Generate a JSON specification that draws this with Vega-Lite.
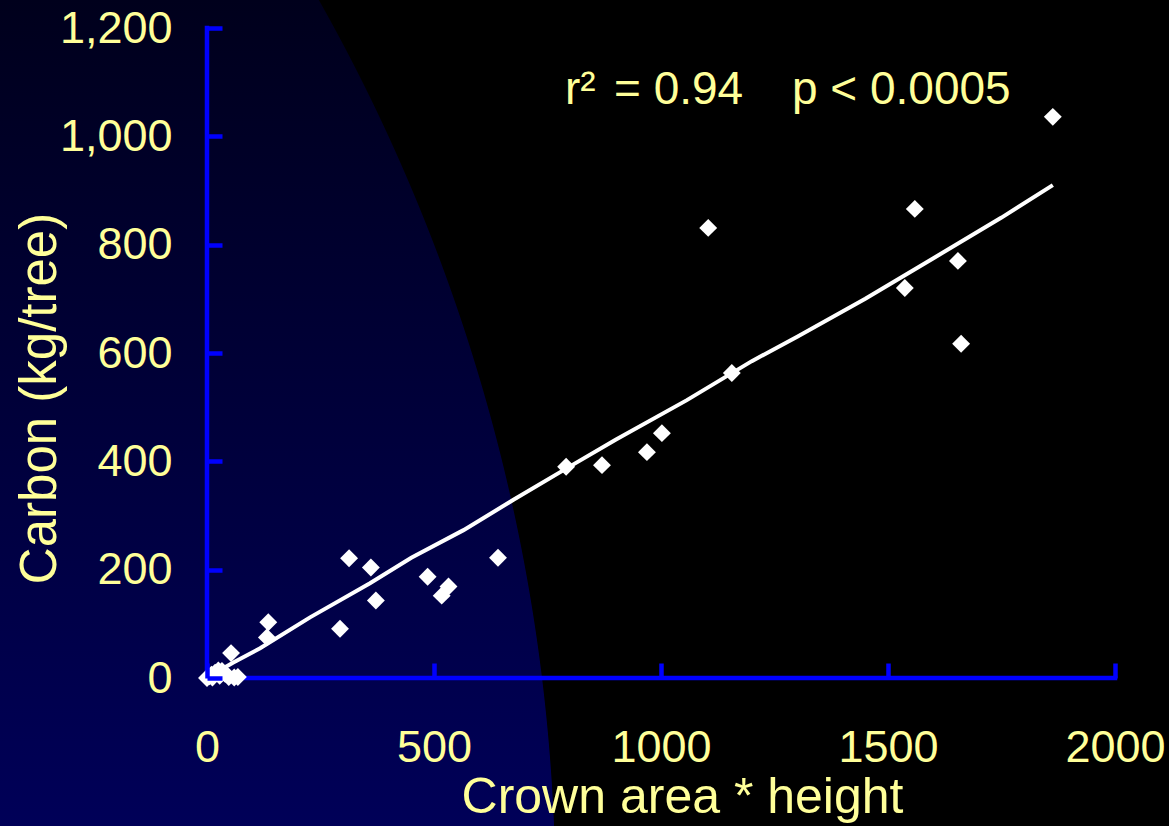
{
  "$schema": "https://vega.github.io/schema/vega-lite/v6.json",
  "width": 1169,
  "height": 826,
  "autosize": {"type": "fit", "contains": "padding"},
  "padding": 0,
  "background": "#000000",
  "config": {"view": {"stroke": null, "fill": null}, "font": "Liberation Sans"},
  "layer": [
    {
      "data": {"values": [{}]},
      "mark": {
        "type": "rect",
        "fill": {"gradient": "linear", "x1": 0, "y1": 0, "x2": 0, "y2": 1,
          "stops": [{"offset": 0, "color": "#00001c"}, {"offset": 1, "color": "#000058"}]}
      },
      "encoding": {"x": {"value": 0}, "x2": {"value": "width"}, "y": {"value": 0}, "y2": {"value": "height"}}
    },
    {
      "data": {"values": [{}]},
      "mark": {
        "type": "rect",
        "fill": {"gradient": "radial", "x1": -1.08982, "y1": 0.91664, "r1": 0, "x2": -1.08982, "y2": 0.91664, "r2": 1.56544,
          "stops": [{"offset": 0, "color": "rgba(0,0,0,0)"}, {"offset": 0.9995, "color": "rgba(0,0,0,0)"}, {"offset": 1, "color": "#000000"}]}
      },
      "encoding": {"x": {"value": 0}, "x2": {"value": "width"}, "y": {"value": 0}, "y2": {"value": "height"}}
    },
    {
      "data": {"values": [{}]},
      "mark": {"type": "rule", "color": "#0000ff", "strokeWidth": 4.5, "strokeCap": "square"},
      "encoding": {
        "x": {"datum": 0, "type": "quantitative", "scale": {"domain": [-455.9, 2118.9], "nice": false, "zero": false}},
        "x2": {"datum": 2000},
        "y": {"datum": 0, "type": "quantitative", "scale": {"domain": [-273.2, 1251.7], "nice": false, "zero": false}}
      }
    },
    {
      "data": {"values": [{}]},
      "mark": {"type": "rule", "color": "#0000ff", "strokeWidth": 4.5, "strokeCap": "square"},
      "encoding": {
        "x": {"datum": 0, "type": "quantitative", "scale": {"domain": [-455.9, 2118.9], "nice": false, "zero": false}},
        "y": {"datum": 0, "type": "quantitative", "scale": {"domain": [-273.2, 1251.7], "nice": false, "zero": false}},
        "y2": {"datum": 1200}
      }
    },
    {
      "data": {"values": [
        {"x": 20, "y": 10}, {"x": 57, "y": 28}, {"x": 117, "y": 55}, {"x": 227, "y": 112},
        {"x": 359, "y": 175}, {"x": 450, "y": 222}, {"x": 565, "y": 273}, {"x": 675, "y": 329},
        {"x": 792, "y": 387}, {"x": 900, "y": 440}, {"x": 1057, "y": 513}, {"x": 1200, "y": 585},
        {"x": 1300, "y": 630}, {"x": 1450, "y": 700}, {"x": 1600, "y": 775}, {"x": 1750, "y": 850},
        {"x": 1863, "y": 910}
      ]},
      "mark": {"type": "line", "color": "#ffffff", "strokeWidth": 4},
      "encoding": {
        "x": {"field": "x", "type": "quantitative", "scale": {"domain": [-455.9, 2118.9], "nice": false, "zero": false},
          "axis": {"orient": "bottom", "offset": -148, "domain": false, "grid": false, "values": [0, 500, 1000, 1500, 2000], "format": "d",
            "tickSize": -15, "tickWidth": 4.5, "tickColor": "#0000ff", "labelFont": "Liberation Sans", "labelFontSize": 45, "labelColor": "#ffff99",
            "labelPadding": 62, "labelFlush": false, "labelOverlap": false, "title": "Crown area * height", "titleFont": "Liberation Sans",
            "titleFontSize": 50, "titleFontWeight": "normal", "titleColor": "#ffff99", "titleX": 682, "titleY": 134, "titleAlign": "center",
            "titleBaseline": "alphabetic", "zindex": 1}},
        "y": {"field": "y", "type": "quantitative", "scale": {"domain": [-273.2, 1251.7], "nice": false, "zero": false},
          "axis": {"orient": "left", "offset": -207, "domain": false, "grid": false, "values": [0, 200, 400, 600, 800, 1000, 1200], "format": ",d",
            "tickSize": -15, "tickWidth": 4.5, "tickColor": "#0000ff", "labelFont": "Liberation Sans", "labelFontSize": 45, "labelColor": "#ffff99",
            "labelPadding": 50, "labelFlush": false, "labelOverlap": false, "title": "Carbon (kg/tree)", "titleFont": "Liberation Sans",
            "titleFontSize": 51, "titleFontWeight": "normal", "titleColor": "#ffff99", "titleAngle": 270, "titleX": -167, "titleY": 398,
            "titleAlign": "center", "titleBaseline": "middle", "zindex": 1}}
      }
    },
    {
      "data": {"values": [
        {"x": 1863, "y": 1036}, {"x": 1559, "y": 866}, {"x": 1104, "y": 831}, {"x": 1537, "y": 720},
        {"x": 1654, "y": 770}, {"x": 1661, "y": 617}, {"x": 1156, "y": 563}, {"x": 791, "y": 390},
        {"x": 870, "y": 393}, {"x": 969, "y": 417}, {"x": 1002, "y": 452}, {"x": 641, "y": 222},
        {"x": 313, "y": 221}, {"x": 361, "y": 204}, {"x": 486, "y": 187}, {"x": 532, "y": 169},
        {"x": 517, "y": 152}, {"x": 372, "y": 143}, {"x": 293, "y": 91}, {"x": 135, "y": 103},
        {"x": 132, "y": 75}, {"x": 53, "y": 46}, {"x": 0, "y": 0}, {"x": 5, "y": 3},
        {"x": 10, "y": 6}, {"x": 18, "y": 10}, {"x": 25, "y": 14}, {"x": 33, "y": 13},
        {"x": 40, "y": 8}, {"x": 48, "y": 2}, {"x": 60, "y": 1}, {"x": 68, "y": 2},
        {"x": 12, "y": 1}, {"x": 28, "y": 4}
      ]},
      "mark": {"type": "point", "shape": "diamond", "filled": true, "color": "#ffffff", "opacity": 1, "size": 320},
      "encoding": {
        "x": {"field": "x", "type": "quantitative", "scale": {"domain": [-455.9, 2118.9], "nice": false, "zero": false}},
        "y": {"field": "y", "type": "quantitative", "scale": {"domain": [-273.2, 1251.7], "nice": false, "zero": false}}
      }
    },
    {
      "data": {"values": [{}]},
      "mark": {"type": "text", "text": "r²", "font": "Liberation Sans", "fontSize": 46, "color": "#ffff99", "align": "left", "baseline": "alphabetic"},
      "encoding": {"x": {"datum": 788.5, "type": "quantitative"}, "y": {"datum": 1059.7, "type": "quantitative"}}
    },
    {
      "data": {"values": [{}]},
      "mark": {"type": "text", "text": "= 0.94", "font": "Liberation Sans", "fontSize": 46, "color": "#ffff99", "align": "left", "baseline": "alphabetic"},
      "encoding": {"x": {"datum": 896.5, "type": "quantitative"}, "y": {"datum": 1059.7, "type": "quantitative"}}
    },
    {
      "data": {"values": [{}]},
      "mark": {"type": "text", "text": "p < 0.0005", "font": "Liberation Sans", "fontSize": 46, "color": "#ffff99", "align": "left", "baseline": "alphabetic"},
      "encoding": {"x": {"datum": 1288.5, "type": "quantitative"}, "y": {"datum": 1059.7, "type": "quantitative"}}
    }
  ]
}
